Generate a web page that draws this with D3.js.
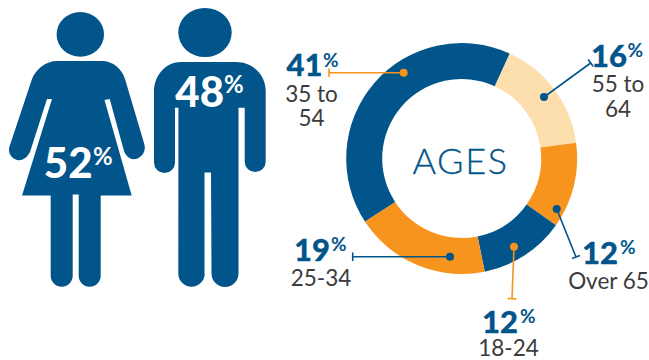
<!DOCTYPE html>
<html>
<head>
<meta charset="utf-8">
<script src="https://cdn.jsdelivr.net/npm/d3@7/dist/d3.min.js"></script>
<style>
html,body{margin:0;padding:0;background:#fff}
svg{display:block}
text{font-family:Lato,"Open Sans",sans-serif}
</style>
</head>
<body>
<svg id="chart" width="649" height="360"></svg>
<script>
// Audience breakdown values
const sexLabels = ["Women", "Men"];
const sexPercents = [52, 48];
const ageGroups = ["55 to 64", "Over 65", "18-24", "25-34", "35 to 54"];
const agePercents = [16, 12, 12, 19, 41];
const ageLabelLines = [["55 to", "64"], ["Over 65"], ["18-24"], ["25-34"], ["35 to", "54"]];

const NAVY = "#02558a", ORANGE = "#f7941e", CREAM = "#fddfae", INK = "#3b3b3b";
const sliceColors = [CREAM, ORANGE, NAVY, ORANGE, NAVY];
const leaderColors = [NAVY, NAVY, ORANGE, NAVY, ORANGE];

const svg = d3.select("#chart");

// Pictograms
const people = svg.append("g").attr("fill", NAVY);

const woman = d3.path();
woman.moveTo(57, 61);
woman.lineTo(102, 61);
woman.bezierCurveTo(113, 61, 122, 69, 125, 79);
woman.lineTo(144, 143);
woman.bezierCurveTo(147, 152, 141, 158, 135, 159);
woman.bezierCurveTo(130, 160, 126, 156, 124, 151);
woman.lineTo(109.7, 99);
woman.lineTo(104.5, 100);
woman.lineTo(131.7, 195.5);
woman.lineTo(100.7, 195.5);
woman.lineTo(100.7, 275);
woman.arc(89.7, 275.7, 11, 0, Math.PI);
woman.lineTo(78.7, 194.5);
woman.lineTo(72.7, 194.5);
woman.lineTo(72.7, 275.7);
woman.arc(61.7, 275.7, 11, 0, Math.PI);
woman.lineTo(50.7, 195.5);
woman.lineTo(22, 195.5);
woman.lineTo(52, 99);
woman.lineTo(47, 99);
woman.lineTo(30, 152);
woman.bezierCurveTo(27, 158, 22, 161, 17, 160);
woman.bezierCurveTo(11, 158, 7, 152, 10, 145);
woman.lineTo(32, 79);
woman.bezierCurveTo(36, 69, 46, 61, 57, 61);
woman.closePath();
people.append("path").attr("d", woman.toString());
people.append("ellipse").attr("cx", 80.3).attr("cy", 34.4).attr("rx", 23.7).attr("ry", 22.4);

const man = d3.path();
man.moveTo(181, 62);
man.lineTo(236, 62);
man.bezierCurveTo(253, 62, 266, 75, 265.7, 92);
man.lineTo(265.7, 161.5);
man.arc(255.2, 161.5, 10.5, 0, Math.PI);
man.lineTo(244.7, 107.7);
man.lineTo(238.5, 107.7);
man.lineTo(238.5, 273.5);
man.arc(225, 273.5, 13.5, 0, Math.PI);
man.lineTo(211, 172.5);
man.lineTo(204.5, 172.5);
man.lineTo(204.5, 273.5);
man.arc(191.5, 273.5, 13.2, 0, Math.PI);
man.lineTo(178.4, 107.7);
man.lineTo(175, 107.7);
man.lineTo(175, 162.5);
man.arc(164.5, 162.5, 10.5, 0, Math.PI);
man.lineTo(154, 92);
man.bezierCurveTo(154, 75, 166, 62, 181, 62);
man.closePath();
people.append("path").attr("d", man.toString());
people.append("ellipse").attr("cx", 205).attr("cy", 32.5).attr("rx", 26.7).attr("ry", 24.6);

// Share figures drawn over the pictograms
const sexLabelSpots = [
  {x: 92.5, y: 178, px: 93, py: 165},
  {x: 224, y: 107, px: 224, py: 93}
];
sexPercents.forEach((v, i) => {
  const s = sexLabelSpots[i];
  const t = svg.append("text").attr("aria-label", sexLabels[i]).attr("fill", "#fff");
  t.append("tspan").attr("x", s.x).attr("y", s.y).attr("text-anchor", "end")
    .attr("font-size", 42).attr("font-weight", 900).text(v);
  t.append("tspan").attr("x", s.px).attr("y", s.py)
    .attr("font-size", 24).attr("font-weight", 700).text("%");
});

// Age ring
const cx = 461.7, cy = 158.5;
const startAngle = 24.5 * Math.PI / 180;
const pie = d3.pie().sort(null).startAngle(startAngle).endAngle(startAngle + 2 * Math.PI);
const arc = d3.arc().innerRadius(79.5).outerRadius(115.5);

svg.append("g").attr("transform", `translate(${cx},${cy})`)
  .selectAll("path").data(pie(agePercents)).join("path")
  .attr("d", arc)
  .attr("fill", (d, i) => sliceColors[i]);

svg.append("text").attr("x", 460.5).attr("y", 174).attr("text-anchor", "middle")
  .attr("font-size", 36).attr("font-weight", 300).attr("letter-spacing", 1.6)
  .attr("stroke", NAVY).attr("stroke-width", 0.3)
  .attr("fill", NAVY).text("AGES");

// Callout leaders: dot inside the slice, capped line toward the label
const leaderLayout = [
  {from: [544, 97],    to: [590.7, 63]},
  {from: [556.7, 209], to: [576, 257]},
  {from: [514, 246.7], to: [512, 298.7]},
  {from: [450, 256.7], to: [352.7, 256.7]},
  {from: [403.7, 72.7], to: [329, 72.7]}
];
const capHalf = 4.3;
const leaders = svg.append("g");
leaderLayout.forEach((l, i) => {
  const c = leaderColors[i];
  const [x1, y1] = l.from, [x2, y2] = l.to;
  const len = Math.hypot(x2 - x1, y2 - y1);
  const nx = -(y2 - y1) / len, ny = (x2 - x1) / len;
  leaders.append("line").attr("x1", x1).attr("y1", y1).attr("x2", x2).attr("y2", y2)
    .attr("stroke", c).attr("stroke-width", 1.6);
  leaders.append("line")
    .attr("x1", x2 - nx * capHalf).attr("y1", y2 - ny * capHalf)
    .attr("x2", x2 + nx * capHalf).attr("y2", y2 + ny * capHalf)
    .attr("stroke", c).attr("stroke-width", 1.6);
  leaders.append("circle").attr("cx", x1).attr("cy", y1).attr("r", 4).attr("fill", c);
});

// Callout labels: figure, raised percent sign and group name in one text block
const labelLayout = [
  {numEnd: 627, base: 67, pctX: 627.5, pctY: 57, textX: 618, textY: [92, 117]},
  {numEnd: 618, base: 264, pctX: 620, pctY: 254, textX: 608.5, textY: [289]},
  {numEnd: 518, base: 333, pctX: 520, pctY: 323, textX: 508.5, textY: [355.5]},
  {numEnd: 330, base: 261, pctX: 331, pctY: 251, textX: 321, textY: [286]},
  {numEnd: 322.5, base: 76, pctX: 323, pctY: 67, textX: 311.5, textY: [102, 126]}
];
agePercents.forEach((v, i) => {
  const l = labelLayout[i];
  const t = svg.append("text").attr("aria-label", ageGroups[i]);
  t.append("tspan").attr("x", l.numEnd).attr("y", l.base).attr("text-anchor", "end")
    .attr("font-size", 31).attr("font-weight", 900).attr("fill", NAVY)
    .attr("stroke", NAVY).attr("stroke-width", 0.3).text(v);
  t.append("tspan").attr("x", l.pctX).attr("y", l.pctY)
    .attr("font-size", 19).attr("font-weight", 700).attr("fill", NAVY).text("%");
  ageLabelLines[i].forEach((line, j) => {
    t.append("tspan").attr("x", l.textX).attr("y", l.textY[j]).attr("text-anchor", "middle")
      .attr("font-size", 22.5).attr("font-weight", 400).attr("fill", INK).text(line);
  });
});
</script>
</body>
</html>
